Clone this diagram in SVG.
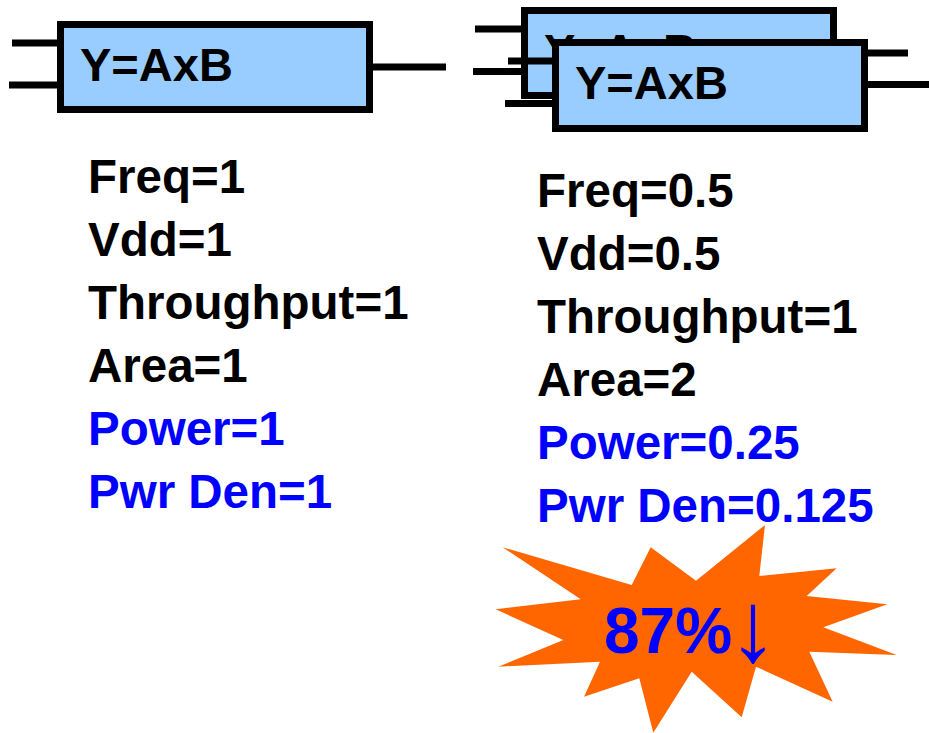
<svg xmlns="http://www.w3.org/2000/svg" width="929" height="733" viewBox="0 0 929 733">
<style>
.box{fill:#99CCFF;stroke:#000;stroke-width:7}
.wire{stroke:#000;stroke-width:7;fill:none}
.lbl{font-family:"Liberation Sans",Arial,sans-serif;font-weight:bold;font-size:47px;fill:#000}
.t{font-family:"Liberation Sans",Arial,sans-serif;font-weight:bold;font-size:47.5px;fill:#000}
.b{fill:#0000FF}
</style>
<rect width="929" height="733" fill="#fff"/>
<g id="mult-left">
<rect class="box" x="60.5" y="24.5" width="309" height="85"/>
<text class="lbl" x="80" y="81">Y=AxB</text>
</g>
<g id="mult-back">
<rect class="box" x="524.5" y="10.5" width="309" height="85"/>
<text class="lbl" x="544" y="67">Y=AxB</text>
</g>
<g id="connectors">
<line class="wire" x1="12" y1="43" x2="57" y2="43"/>
<line class="wire" x1="9" y1="85" x2="57" y2="85"/>
<line class="wire" x1="373" y1="67" x2="446" y2="67"/>
<line class="wire" x1="475" y1="29" x2="521" y2="29"/>
<line class="wire" x1="473" y1="71.5" x2="521" y2="71.5"/>
<line class="wire" x1="836" y1="53" x2="908" y2="53"/>
<line class="wire" x1="508" y1="61" x2="552" y2="61"/>
<line class="wire" x1="505" y1="103.5" x2="552" y2="103.5"/>
<line class="wire" x1="868" y1="84.5" x2="929" y2="84.5"/>
</g>
<g id="mult-front">
<rect class="box" x="555.5" y="42.5" width="309" height="86"/>
<text class="lbl" x="575" y="99">Y=AxB</text>
</g>
<g id="left-stats">
<text class="t" x="88" y="193">Freq=1</text>
<text class="t" x="88" y="256">Vdd=1</text>
<text class="t" x="88" y="319">Throughput=1</text>
<text class="t" x="88" y="382">Area=1</text>
<text class="t b" x="88" y="445">Power=1</text>
<text class="t b" x="88" y="508">Pwr Den=1</text>
</g>
<g id="right-stats">
<text class="t" x="537" y="207">Freq=0.5</text>
<text class="t" x="537" y="270">Vdd=0.5</text>
<text class="t" x="537" y="333">Throughput=1</text>
<text class="t" x="537" y="396">Area=2</text>
<text class="t b" x="537" y="459">Power=0.25</text>
<text class="t b" x="537" y="522">Pwr Den=0.125</text>
</g>
<g id="burst">
<polygon fill="#FF6600" points="502.7,547.3 631.7,585 650.7,547.3 696,580.7 765,525 759.3,576 836.7,568.3 806.7,596 887.3,604.3 823.3,627.3 896.7,655 809.3,651.7 832.7,701.7 756,666.7 741.7,717.3 691.7,671.7 653.3,732.7 639.3,678.3 584,696.7 600,661.7 498.3,666.7 563.3,640 495.7,609.3 580.7,599.3"/>
<text x="604" y="653" font-family="'Liberation Sans',Arial,sans-serif" font-size="64" font-weight="bold" fill="#0000FF">87%<tspan font-weight="normal" font-size="100" dx="-4" dy="8">↓</tspan></text>
</g>
</svg>
